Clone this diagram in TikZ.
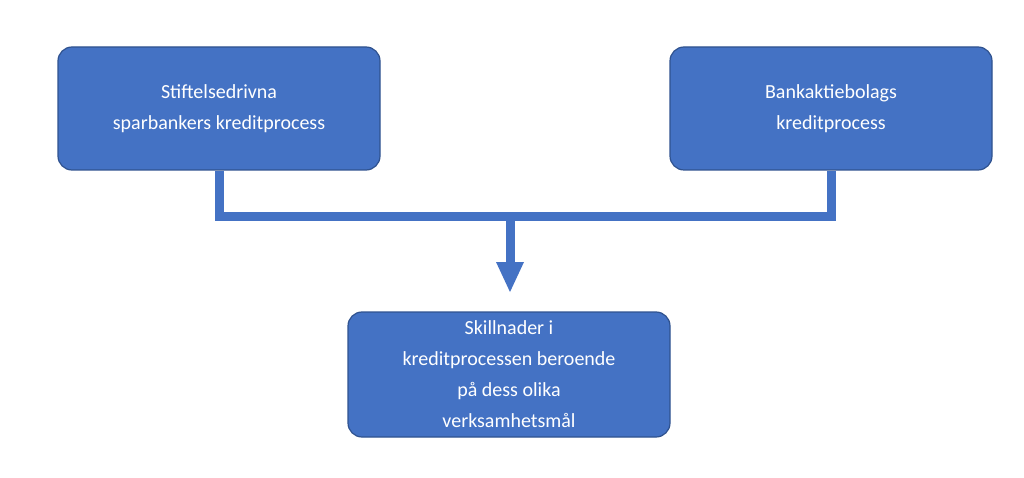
\documentclass[tikz,border=0pt]{standalone}
\usepackage{fontspec}
\setmainfont{Carlito}
\begin{document}
\begin{tikzpicture}[x=1pt,y=-1pt,
  box/.style={draw=blue!30!black!60!blue, fill=boxblue, line width=1.2pt, rounded corners=14pt, text=white, align=center, font=\fontsize{20}{31}\selectfont, minimum width=322pt, minimum height=123pt, inner sep=0pt},
  conn/.style={draw=boxblue, line width=9pt}]
\definecolor{boxblue}{HTML}{4472C4}
\definecolor{edgeblue}{HTML}{2F528F}
\tikzset{box/.append style={draw=edgeblue}}
\useasboundingbox (0,0) rectangle (1024,478);
\node[box] (L) at (219,108.5) {Stiftelsedrivna\\sparbankers kreditprocess};
\node[box] (R) at (831,108.5) {Bankaktiebolags\\kreditprocess};
\node[box, minimum height=125pt] (B) at (509,374.5) {Skillnader i\\kreditprocessen beroende\\på dess olika\\verksamhetsmål};
\coordinate (j) at (510,217);
\coordinate (t) at (510,263);
\draw[conn, line join=miter] (L.south) -- (219,217) -- (831,217) -- (R.south);
\draw[conn] (j) -- (t);
\fill[boxblue] (496,262) -- (524,262) -- (510,292) -- cycle;
\end{tikzpicture}
\end{document}
